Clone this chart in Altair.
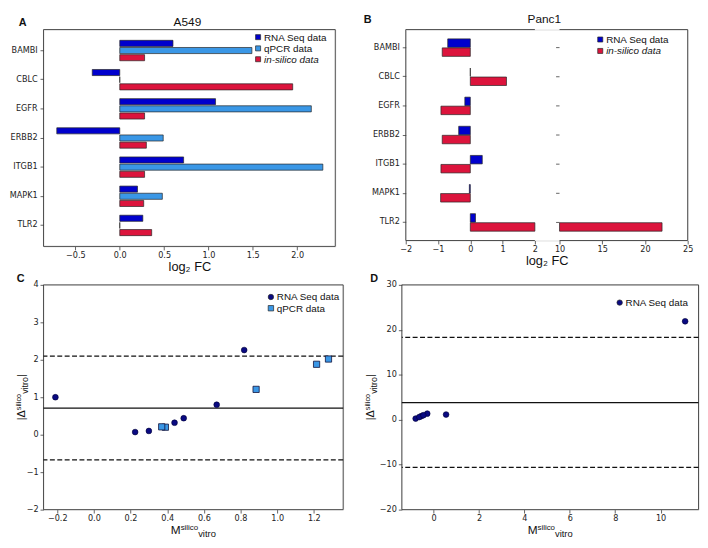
import altair as alt
import pandas as pd

# ---------------- data ----------------
genes = ["BAMBI", "CBLC", "EGFR", "ERBB2", "ITGB1", "MAPK1", "TLR2"]
series_a = ["RNA Seq data", "qPCR data", "in-silico data"]
series_b = ["RNA Seq data", "in-silico data"]

a549_rna = [0.60, -0.31, 1.08, -0.71, 0.72, 0.20, 0.26]
a549_qpcr = [1.49, 0.00, 2.16, 0.49, 2.29, 0.48, 0.00]
a549_silico = [0.28, 1.95, 0.28, 0.30, 0.28, 0.27, 0.36]

panc1_rna = [-0.70, 0.00, -0.17, -0.36, 0.37, -0.03, 0.16]
panc1_silico = [-0.87, 1.12, -0.91, -0.87, -0.91, -0.92, 22.0]

c_rna_m = [0.44, 0.82, 0.67, -0.21, 0.49, 0.225, 0.30]
c_rna_d = [0.32, 2.26, 0.80, 1.00, 0.44, 0.07, 0.10]
c_qpcr_m = [0.885, 1.215, 0.39, 1.28, 0.37]
c_qpcr_d = [1.21, 1.88, 0.20, 2.02, 0.21]
c_mean = [0.71]
c_limits = [2.10, -0.67]

d_rna_m = [-0.79, 0.55, -0.54, -0.63, -0.28, -0.45, 11.08]
d_rna_d = [0.25, 1.15, 0.80, 0.60, 1.35, 1.00, 21.9]
d_mean = [3.8]
d_limits = [18.3, -10.6]

a_x_domain = [-0.86, 2.43]
a_x_ticks = [-0.5, 0.0, 0.5, 1.0, 1.5, 2.0]
b_x_domain = [-2, 2, 10, 25]
b_x_ticks = [-2, -1, 0, 1, 2, 10, 15, 20, 25]
c_x_domain = [-0.275, 1.36]
c_y_domain = [-2, 4]
c_x_ticks = [-0.2, 0.0, 0.2, 0.4, 0.6, 0.8, 1.0, 1.2]
c_y_ticks = [-2, -1, 0, 1, 2, 3, 4]
d_x_domain = [-1.4, 11.67]
d_y_domain = [-20, 30]
d_x_ticks = [0, 2, 4, 6, 8, 10]
d_y_ticks = [-20, -10, 0, 10, 20, 30]

# ---------------- style ----------------
RNA_BAR = "#0000CD"
QPCR = "#3A97E6"
SIL = "#DC143C"
RNA_PT = "#0A0A82"
EDGE = "#262626"
SPINE = "#3c3c3c"
TXT = "#111111"
SANS = "Liberation Sans"
TICKF = "DejaVu Sans"

color_scale = alt.Scale(domain=series_a, range=[RNA_BAR, QPCR, SIL])

ARIAL = {"M": 833, "s": 500, "i": 222, "l": 222, "c": 500, "o": 556, "v": 500,
         "t": 278, "r": 333, "|": 260, "Δ": 668}


def tw(s, fs):
    return sum(ARIAL[ch] for ch in s) * fs / 1000.0


def ax(**kw):
    base = dict(grid=False, domain=False, tickColor=SPINE, tickSize=3.5, tickWidth=0.8,
                labelFont=TICKF, labelFontSize=8.2, labelColor="#222222", labelPadding=2,
                labelFlush=False, labelOverlap=False)
    base.update(kw)
    return alt.Axis(**base)


ONE = pd.DataFrame({"k": [0]})


def text_layer(t, x, y, size, weight="normal", style="normal", align="left",
               baseline="alphabetic", angle=0):
    kw = dict(x=x, y=y, fontSize=size, font=SANS, fontWeight=weight, fontStyle=style,
              align=align, baseline=baseline, color=TXT)
    if angle:
        kw["angle"] = angle
    return alt.Chart(pd.DataFrame({"t": [t]})).mark_text(**kw).encode(text="t:N")


def hrule(x0, x1, y):
    return alt.Chart(ONE).mark_rule(color=SPINE, strokeWidth=0.9).encode(
        x=alt.value(x0), x2=alt.value(x1), y=alt.value(y))


def vrule(x, y0, y1):
    return alt.Chart(ONE).mark_rule(color=SPINE, strokeWidth=0.9).encode(
        x=alt.value(x), y=alt.value(y0), y2=alt.value(y1))


def frame_layers(W, H):
    return [hrule(0, W, 0), hrule(0, W, H), vrule(0, 0, H), vrule(W, 0, H)]


def legend_entry(label, shape, fill, mx, my, size, style="normal"):
    df = pd.DataFrame({"label": [label]})
    mk = alt.Chart(df).mark_point(shape=shape, filled=True, fill=fill, stroke=EDGE,
                                  strokeWidth=0.7, size=size, opacity=1).encode(
        x=alt.value(mx), y=alt.value(my))
    tx = alt.Chart(df).mark_text(align="left", baseline="middle", font=SANS, fontSize=10,
                                 fontStyle=style, color=TXT).encode(
        text="label:N", x=alt.value(mx + 6), y=alt.value(my + 0.5))
    return [mk, tx]


def xtitle_layers(W, y):
    pieces = [("M", 12, 0.0), ("silico", 8, -4.5), ("vitro", 9.5, 3.0)]
    total = sum(tw(t, fs) for t, fs, _ in pieces)
    x = W / 2 - total / 2
    out = []
    for t, fs, dy in pieces:
        out.append(text_layer(t, x, y + dy, fs))
        x += tw(t, fs)
    return out


def ytitle_layers(H, x):
    pieces = [("|Δ", 11, 0.0), ("silico", 7.5, -4.0), ("vitro", 9, 2.5), ("|", 11, 0.0)]
    total = sum(tw(t, fs) for t, fs, _ in pieces)
    y = H / 2 + total / 2
    out = []
    for t, fs, dx in pieces:
        out.append(text_layer(t, x + dx, y, fs, angle=270))
        y -= tw(t, fs)
    return out


def xtitle_axis(**kw):
    return ax(title="log₂ FC", titleFont=SANS, titleFontSize=13, titleFontWeight="normal",
              titleColor=TXT, titlePadding=2, **kw)


# ---------------- panel A ----------------
WA, HA = 296, 220
df_a = pd.DataFrame({
    "gene": genes * 3,
    "series": [s for s in series_a for _ in genes],
    "value": a549_rna + a549_qpcr + a549_silico,
})
bars_a = alt.Chart(df_a).mark_bar(stroke=EDGE, strokeWidth=0.7).encode(
    y=alt.Y("gene:N", scale=alt.Scale(domain=genes, paddingInner=0.3, paddingOuter=0.37),
            axis=ax(title=None, labelPadding=3)),
    yOffset=alt.YOffset("series:N", scale=alt.Scale(domain=series_a, paddingInner=0.15)),
    x=alt.X("value:Q", scale=alt.Scale(domain=a_x_domain, nice=False, zero=False),
            axis=xtitle_axis(values=a_x_ticks, format=".1f")),
    x2=alt.datum(0),
    color=alt.Color("series:N", scale=color_scale, legend=None),
)
layers_a = frame_layers(WA, HA) + [bars_a]
layers_a += legend_entry("RNA Seq data", "square", RNA_BAR, 217.7, 7.7, 26)
layers_a += legend_entry("qPCR data", "square", QPCR, 217.7, 19.1, 26)
layers_a += legend_entry("in-silico data", "square", SIL, 217.7, 30.1, 26, style="italic")
layers_a += [text_layer("A549", 146, -4, 12, align="center"),
             text_layer("A", -25, -4, 11, weight="bold")]
chart_a = alt.layer(*layers_a).properties(width=WA, height=HA)

# ---------------- panel B (broken axis) ----------------
WB, HB = 286, 214
b_x_range = [0, 131, 156, WB]
df_b = pd.DataFrame({
    "gene": genes * 2,
    "series": [s for s in series_b for _ in genes],
    "value": panc1_rna + panc1_silico,
})
xb_scale = alt.Scale(domain=b_x_domain, range=b_x_range, nice=False, zero=False)
xb_axis = xtitle_axis(values=b_x_ticks, format="d")
yb_scale = alt.Scale(domain=genes, paddingInner=0.4, paddingOuter=0.32)
yb_axis = ax(title=None, labelPadding=3)
yob = alt.YOffset("series:N", scale=alt.Scale(domain=series_b, paddingInner=0.06))
col_b = alt.Color("series:N", scale=color_scale, legend=None)

left_b = alt.Chart(df_b).transform_calculate(
    xe=f"clamp(datum.value, {b_x_domain[0]}, {b_x_domain[1]})",
    x0="0"
).mark_bar(stroke=EDGE, strokeWidth=0.7).encode(
    y=alt.Y("gene:N", scale=yb_scale, axis=yb_axis), yOffset=yob,
    x=alt.X("xe:Q", scale=xb_scale, axis=xb_axis), x2="x0:Q", color=col_b)
right_b = alt.Chart(df_b).transform_filter(
    f"datum.value > {b_x_domain[2]}"
).transform_calculate(
    xe="datum.value", x0=f"{b_x_domain[2]}"
).mark_bar(stroke=EDGE, strokeWidth=0.7).encode(
    y=alt.Y("gene:N", scale=yb_scale, axis=yb_axis), yOffset=yob,
    x=alt.X("xe:Q", scale=xb_scale, axis=xb_axis), x2="x0:Q", color=col_b)

r = b_x_range
frame_b = [hrule(r[0], r[1], 0), hrule(r[2], r[3], 0), hrule(r[0], r[1], HB), hrule(r[2], r[3], HB),
           vrule(r[0], 0, HB), vrule(r[3], 0, HB)]
ticks_b = alt.Chart(pd.DataFrame({"gene": genes})).mark_rule(
    color=SPINE, strokeWidth=0.8).encode(
    y=alt.Y("gene:N", scale=yb_scale, axis=yb_axis),
    x=alt.value(r[2] - 3.5), x2=alt.value(r[2]))

layers_b = frame_b + [left_b, right_b, ticks_b]
layers_b += legend_entry("RNA Seq data", "square", RNA_BAR, WB - 88.7, 10.1, 26)
layers_b += legend_entry("in-silico data", "square", SIL, WB - 88.7, 21.7, 26, style="italic")
layers_b += [text_layer("Panc1", 140.5, -7, 12, align="center"),
             text_layer("B", -42.5, -7, 11, weight="bold")]
chart_b = alt.layer(*layers_b).properties(width=WB, height=HB)

# ---------------- panel C ----------------
WC, HC = 304, 228
xc = alt.X("m:Q", scale=alt.Scale(domain=c_x_domain, nice=False, zero=False),
           axis=ax(values=c_x_ticks, format=".1f", title=None))
yc_axis = ax(values=c_y_ticks, format="d", title=None)
yc_scale = alt.Scale(domain=c_y_domain, nice=False, zero=False)
mean_c = alt.Chart(pd.DataFrame({"y": c_mean})).mark_rule(color="#111111", strokeWidth=1.3).encode(
    y=alt.Y("y:Q", scale=yc_scale, axis=yc_axis))
lim_c = alt.Chart(pd.DataFrame({"y": c_limits})).mark_rule(
    color="#111111", strokeWidth=1.3, strokeDash=[5, 2.5]).encode(
    y=alt.Y("y:Q", scale=yc_scale, axis=yc_axis))
rna_c = alt.Chart(pd.DataFrame({"m": c_rna_m, "d": c_rna_d})).mark_point(
    shape="circle", filled=True, fill=RNA_PT, stroke="#000033", strokeWidth=0.6, size=34, opacity=1).encode(
    x=xc, y=alt.Y("d:Q", scale=yc_scale, axis=yc_axis))
qpcr_c = alt.Chart(pd.DataFrame({"m": c_qpcr_m, "d": c_qpcr_d})).mark_point(
    shape="square", filled=True, fill=QPCR, stroke="#10103a", strokeWidth=0.8, size=40, opacity=1).encode(
    x=xc, y=alt.Y("d:Q", scale=yc_scale, axis=yc_axis))
layers_c = frame_layers(WC, HC) + [mean_c, lim_c, rna_c, qpcr_c]
layers_c += legend_entry("RNA Seq data", "circle", RNA_PT, WC - 73.3, 12.3, 30)
layers_c += legend_entry("qPCR data", "square", QPCR, WC - 73.3, 23.7, 30)
layers_c += xtitle_layers(WC, HC + 25)
layers_c += ytitle_layers(HC, -18.5)
layers_c += [text_layer("C", -27, -3, 11, weight="bold")]
chart_c = alt.layer(*layers_c).properties(width=WC, height=HC)

# ---------------- panel D ----------------
WD, HD = 301, 228
xd = alt.X("m:Q", scale=alt.Scale(domain=d_x_domain, nice=False, zero=False),
           axis=ax(values=d_x_ticks, format="d", title=None))
yd_axis = ax(values=d_y_ticks, format="d", title=None)
yd_scale = alt.Scale(domain=d_y_domain, nice=False, zero=False)
mean_d = alt.Chart(pd.DataFrame({"y": d_mean})).mark_rule(color="#111111", strokeWidth=1.3).encode(
    y=alt.Y("y:Q", scale=yd_scale, axis=yd_axis))
lim_d = alt.Chart(pd.DataFrame({"y": d_limits})).mark_rule(
    color="#111111", strokeWidth=1.3, strokeDash=[5, 2.5]).encode(
    y=alt.Y("y:Q", scale=yd_scale, axis=yd_axis))
rna_d = alt.Chart(pd.DataFrame({"m": d_rna_m, "d": d_rna_d})).mark_point(
    shape="circle", filled=True, fill=RNA_PT, stroke="#000033", strokeWidth=0.6, size=34, opacity=1).encode(
    x=xd, y=alt.Y("d:Q", scale=yd_scale, axis=yd_axis))
layers_d = frame_layers(WD, HD) + [mean_d, lim_d, rna_d]
layers_d += legend_entry("RNA Seq data", "circle", RNA_PT, WD - 80, 18, 30)
layers_d += xtitle_layers(WD, HD + 25)
layers_d += ytitle_layers(HD, -28)
layers_d += [text_layer("D", -32, -3, 11, weight="bold")]
chart_d = alt.layer(*layers_d).properties(width=WD, height=HD)

# ---------------- layout ----------------
row1 = alt.hconcat(chart_a, chart_b, spacing=27.5).resolve_scale(yOffset="independent")
row2 = alt.hconcat(chart_c, chart_d, spacing=18.5)
chart = alt.vconcat(row1, row2, spacing=-3).properties(
    padding={"left": 0, "top": 0, "right": 0, "bottom": 0}
).configure_view(stroke="transparent").configure(background="white")

chart.save("out.html", embed_options={"renderer": "svg", "actions": False})
